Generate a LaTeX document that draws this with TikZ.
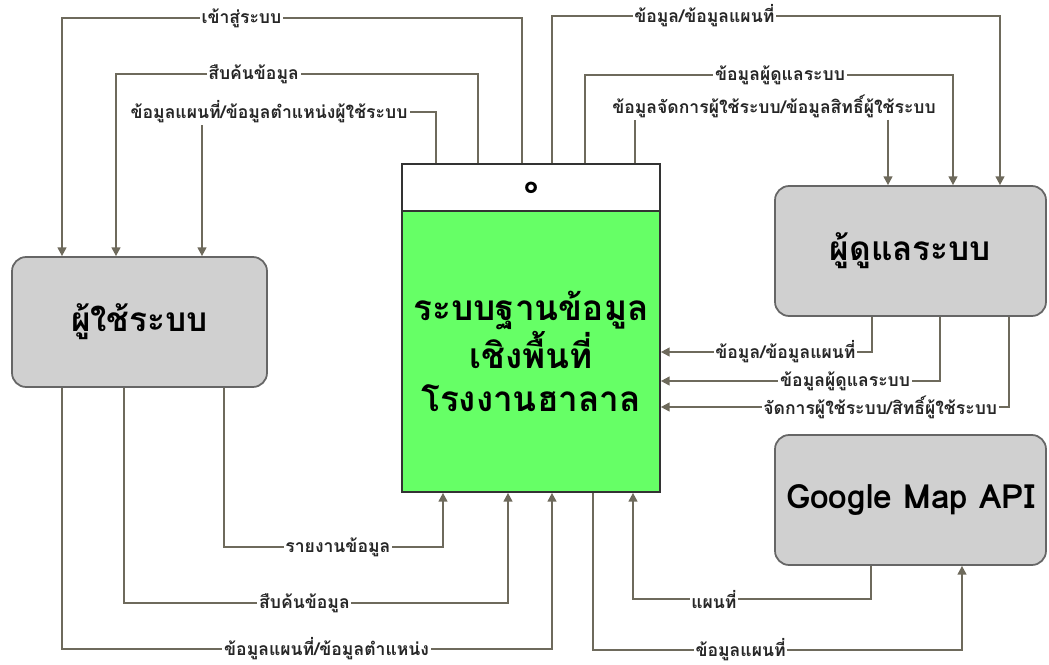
\documentclass[tikz,border=0pt]{standalone}
\usepackage{fontspec}
\setmainfont[Script=Thai]{Loma}
\usetikzlibrary{arrows.meta}

\definecolor{flowline}{HTML}{6E6A5C}
\definecolor{boxgray}{HTML}{D0D0D0}
\definecolor{dbgreen}{HTML}{66FF66}

\begin{document}
\begin{tikzpicture}[x=0.02cm, y=-0.02cm,
  extbox/.style={draw=gray!80!black, fill=boxgray, rounded corners=8pt, line width=1pt,
    minimum height=2.6cm, font=\bfseries\fontsize{19}{22}\selectfont},
  flow/.style={draw=flowline, line width=1.1pt, -{Triangle[length=5pt,width=5pt]}},
  plain/.style={draw=flowline, line width=1.1pt},
  lbl/.style={fill=white, inner sep=1pt, text=black!85, font=\bfseries\fontsize{10}{11}\selectfont}]

\useasboundingbox (0,0) rectangle (1049,664);

% external entities
\node[extbox, minimum width=5.1cm] (user) at (139.5,322) {ผู้ใช้ระบบ};
\node[extbox, minimum width=5.42cm] (admin) at (910.5,251) {ผู้ดูแลระบบ};
\node[extbox, minimum width=5.42cm] (google) at (910.5,500) {Google Map API};

% process
\node[draw=black!80, fill=white, line width=1pt, minimum width=5.16cm, minimum height=0.94cm,
  font=\bfseries\Large] (head) at (531,187.5) {๐};
\node[draw=black!80, fill=dbgreen, line width=1pt, minimum width=5.16cm, minimum height=5.62cm,
  align=center, font=\bfseries\fontsize{20}{24.5}\selectfont] (proc) at (531,351.5)
  {ระบบฐานข้อมูล\\เชิงพื้นที่\\โรงงานฮาลาล};

% process -> user
\draw[flow] (head.north -| 522,0) -- (522,18) -- node[lbl,pos=0.61] (t1) {เข้าสู่ระบบ} (62,18) -- (user.north -| 62,0);
\draw[flow] (head.north -| 478,0) -- (478,74) -- node[lbl,pos=0.62] (t2) {สืบค้นข้อมูล} (116,74) -- (user.north -| 116,0);
\node[lbl] (t3) at (269,112) {ข้อมูลแผนที่/ข้อมูลตำแหน่งผู้ใช้ระบบ};
\draw[plain] (head.north -| 436,0) -- (436,112) -- (t3.east);
\draw[flow] (t3.south -| 202,0) -- (user.north -| 202,0);

% process -> admin
\draw[flow] (head.north -| 552,0) -- (552,16) -- node[lbl,pos=0.34] (t4) {ข้อมูล/ข้อมูลแผนที่} (1000,16) -- (admin.north -| 1000,0);
\draw[flow] (head.north -| 585,0) -- (585,75) -- node[lbl,pos=0.53] (t5) {ข้อมูลผู้ดูแลระบบ} (953,75) -- (admin.north -| 953,0);
\node[lbl] (t6) at (774,106) {ข้อมูลจัดการผู้ใช้ระบบ/ข้อมูลสิทธิ์ผู้ใช้ระบบ};
\draw[plain] (head.north -| 635,0) -- (t6.south -| 635,0);
\draw[flow] (t6.south -| 888,0) -- (admin.north -| 888,0);

% admin -> process
\draw[flow] (admin.south -| 872,0) -- (872,352) -- node[lbl,pos=0.41] (r1) {ข้อมูล/ข้อมูลแผนที่} (proc.east |- 0,352);
\draw[flow] (admin.south -| 940,0) -- (940,381) -- node[lbl,pos=0.34] (r2) {ข้อมูลผู้ดูแลระบบ} (proc.east |- 0,381);
\draw[flow] (admin.south -| 1009,0) -- (1009,407) -- node[lbl,pos=0.37] (r3) {จัดการผู้ใช้ระบบ/สิทธิ์ผู้ใช้ระบบ} (proc.east |- 0,407);

% user -> process
\draw[flow] (user.south -| 224,0) -- (224,547) -- node[lbl,pos=0.52] (b1) {รายงานข้อมูล} (443,547) -- (proc.south -| 443,0);
\draw[flow] (user.south -| 124,0) -- (124,603) -- node[lbl,pos=0.47] (b2) {สืบค้นข้อมูล} (508,603) -- (proc.south -| 508,0);
\draw[flow] (user.south -| 62,0) -- (62,649) -- node[lbl,pos=0.54] (b3) {ข้อมูลแผนที่/ข้อมูลตำแหน่ง} (552,649) -- (proc.south -| 552,0);

% google map api <-> process
\draw[flow] (google.south -| 871,0) -- (871,599) -- node[lbl,pos=0.66] (g1) {แผนที่} (633,599) -- (proc.south -| 633,0);
\draw[flow] (proc.south -| 593,0) -- (593,650) -- node[lbl,pos=0.40] (g2) {ข้อมูลแผนที่} (962,650) -- (google.south -| 962,0);

\end{tikzpicture}
\end{document}
